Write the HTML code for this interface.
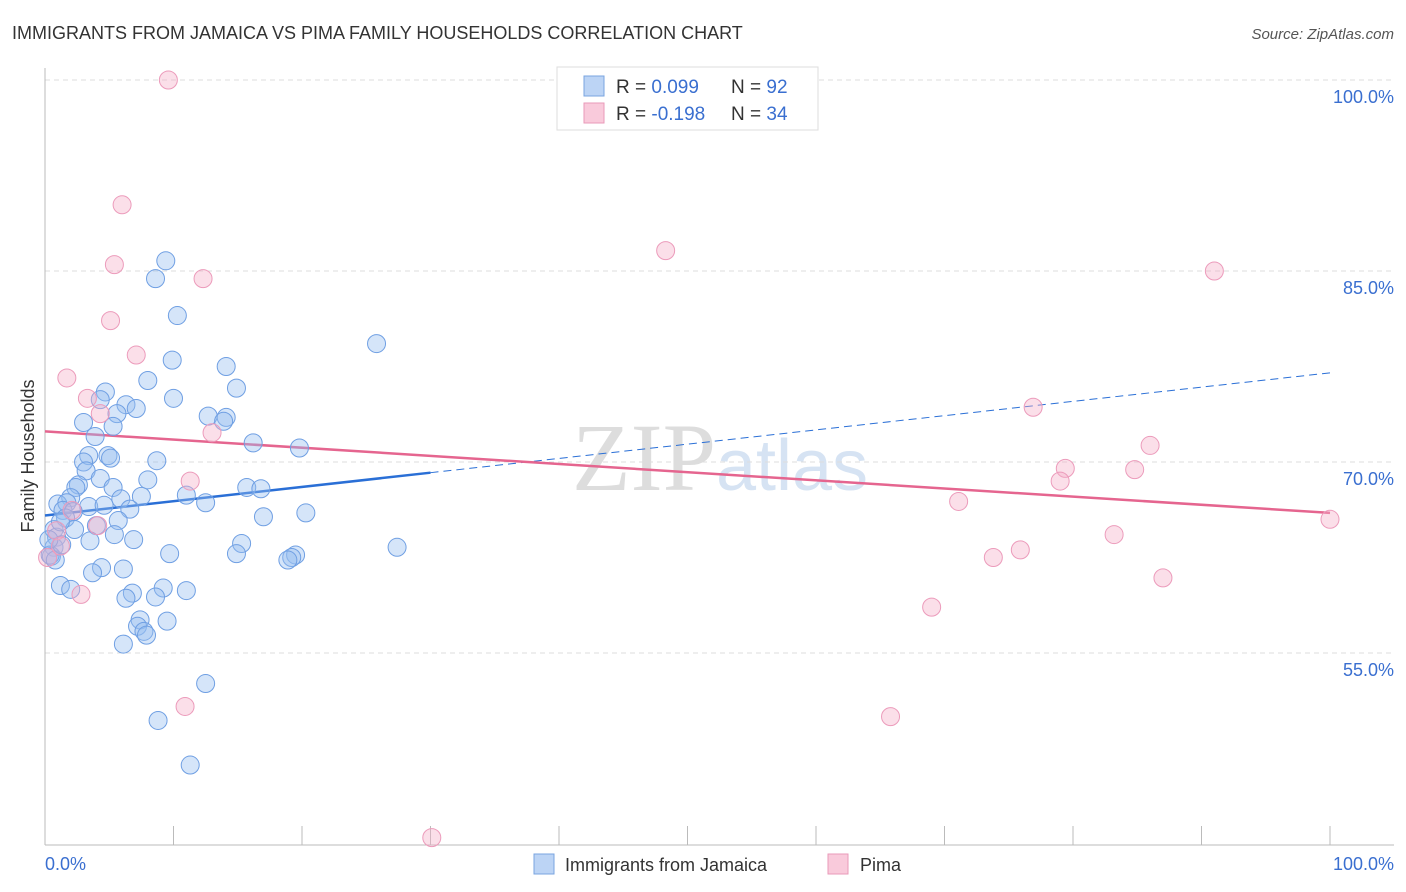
<!DOCTYPE html>
<html><head><meta charset="utf-8"><style>
body{margin:0;background:#fff;font-family:"Liberation Sans",sans-serif;}
svg{display:block}
</style></head><body>
<svg id="chart" width="1406" height="892">
<text x="12" y="39" font-size="18" fill="#333">IMMIGRANTS FROM JAMAICA VS PIMA FAMILY HOUSEHOLDS CORRELATION CHART</text>
<text x="1394" y="39" font-size="15" fill="#555" font-style="italic" text-anchor="end">Source: ZipAtlas.com</text>
<text x="720" y="490" font-size="96" fill="#ddd" text-anchor="middle" font-family="Liberation Serif,serif">ZIP<tspan fill="#d6e3f3" font-family="Liberation Sans,sans-serif" font-size="72">atlas</tspan></text>
<text transform="translate(34,456) rotate(-90)" font-size="18" fill="#333" text-anchor="middle">Family Households</text>
<g id="grid"></g><g id="ticks"></g><g id="lines"></g><g id="pts"></g>
<g>
<rect x="557" y="67" width="261" height="63" fill="#fff" stroke="#ddd"/>
<rect x="584" y="76" width="20" height="20" fill="#bcd4f5" stroke="#7aa4e0"/>
<rect x="584" y="103" width="20" height="20" fill="#f9cadb" stroke="#e99ab8"/>
<text x="616" y="93" font-size="19" fill="#333">R = <tspan fill="#3a6fd0"> 0.099</tspan><tspan x="731">N = </tspan><tspan fill="#3a6fd0">92</tspan></text>
<text x="616" y="120" font-size="19" fill="#333">R = <tspan fill="#3a6fd0">-0.198</tspan><tspan x="731">N = </tspan><tspan fill="#3a6fd0">34</tspan></text>
</g>
<text x="45" y="870" font-size="18" fill="#3a6fd0">0.0%</text>
<text x="1394" y="870" font-size="18" fill="#3a6fd0" text-anchor="end">100.0%</text>
<g>
<rect x="534" y="854" width="20" height="20" fill="#bcd4f5" stroke="#7aa4e0"/>
<text x="565" y="871" font-size="18" fill="#333">Immigrants from Jamaica</text>
<rect x="828" y="854" width="20" height="20" fill="#f9cadb" stroke="#e99ab8"/>
<text x="860" y="871" font-size="18" fill="#333">Pima</text>
</g>
</svg>
<script>
const yTicks=[100,85,70,55];
const yTickLabels=["100.0%","85.0%","70.0%","55.0%"];
const xTicks=[0,10,20,30,40,50,60,70,80,90,100];
const blueX=[9.4,8.6,10.3,25.8,9.9,14.1,8.0,14.9,4.7,10.0,4.3,6.3,7.1,5.6,12.7,14.1,13.9,3.0,5.3,3.9,16.2,19.8,3.4,4.9,5.1,8.7,3.0,3.2,4.3,8.0,2.6,2.4,15.7,16.8,5.3,2.0,7.5,11.0,5.9,12.5,1.0,1.7,3.4,4.6,6.6,1.4,2.2,20.3,17.0,1.6,5.7,4.0,2.3,0.7,5.4,0.9,3.5,6.9,15.3,27.4,0.7,9.7,14.9,19.5,19.2,18.9,0.5,0.4,6.1,4.4,3.7,1.2,2.0,9.2,11.0,6.8,6.3,8.6,7.4,9.5,7.2,7.7,7.9,6.1,12.5,8.8,11.3,0.8,1.3,0.3,1.2];
const blueY=[85.8,84.4,81.5,79.3,78.0,77.5,76.4,75.8,75.5,75.0,74.9,74.5,74.2,73.8,73.6,73.5,73.2,73.1,72.8,72.0,71.5,71.1,70.5,70.5,70.3,70.1,70.0,69.3,68.7,68.6,68.2,68.0,68.0,67.9,68.0,67.2,67.3,67.4,67.1,66.8,66.7,66.8,66.5,66.6,66.3,66.2,66.1,66.0,65.7,65.6,65.4,65.0,64.7,64.7,64.3,64.1,63.8,63.9,63.6,63.3,63.3,62.8,62.8,62.7,62.5,62.3,62.6,62.7,61.6,61.7,61.3,60.3,60.0,60.1,59.9,59.7,59.3,59.4,57.6,57.5,57.1,56.7,56.4,55.7,52.6,49.7,46.2,62.3,63.5,63.9,65.3];
const pinkX=[9.6,6.0,5.4,12.3,5.1,7.1,1.7,3.3,4.3,13.0,11.3,4.1,0.9,0.2,2.8,10.9,30.1,48.3,91.0,76.9,86.0,79.4,84.8,79.0,71.1,100,83.2,75.9,73.8,87.0,69.0,65.8,2.1,1.2];
const pinkY=[100,90.2,85.5,84.4,81.1,78.4,76.6,75.0,73.8,72.3,68.5,65.0,64.6,62.5,59.6,50.8,40.5,86.6,85.0,74.3,71.3,69.5,69.4,68.5,66.9,65.5,64.3,63.1,62.5,60.9,58.6,50.0,66.2,63.4];
const blueTrend=[65.8,77.0];
const blueSolidEnd=30;
const pinkTrend=[72.4,66.0];
const NS="http://www.w3.org/2000/svg";
const X=v=>45+v*12.85, Y=v=>80+(100-v)*12.733;
function mk(t,a,p){const e=document.createElementNS(NS,t);for(const k in a)e.setAttribute(k,a[k]);p.appendChild(e);return e;}
const grid=document.getElementById('grid'),ticks=document.getElementById('ticks'),lines=document.getElementById('lines'),pts=document.getElementById('pts');
yTicks.forEach((v,i)=>{
 const l=mk('line',{x1:45,x2:1394,y1:Y(v),y2:Y(v),stroke:'#ddd','stroke-dasharray':'5,4'},grid);
 
 
 const t=mk('text',{x:1394,y:Y(v)+23,'font-size':18,fill:'#3a6fd0','text-anchor':'end'},grid);
 t.textContent=yTickLabels[i];
 
 
});
const ax=mk('line',{x1:45,x2:45,y1:68,y2:845,stroke:'#bbb'},ticks);


const bx=mk('line',{x1:45,x2:1394,y1:845,y2:845,stroke:'#bbb'},ticks);


xTicks.forEach(v=>{
 const t=mk('line',{x1:X(v),x2:X(v),y1:826,y2:845,stroke:'#bbb'},ticks);
 
 
});
function dot(x,y,fill,stroke,name){
 const c=mk('circle',{cx:X(x),cy:Y(y),r:9,fill:fill,stroke:stroke,'stroke-width':1},pts);
 
 
}
blueX.forEach((x,i)=>dot(x,blueY[i],'rgba(150,190,240,0.4)','#6f9fe3','jamaica-point'));
pinkX.forEach((x,i)=>dot(x,pinkY[i],'rgba(246,175,200,0.4)','#ec9bbb','pima-point'));
const bAt=x=>blueTrend[0]+(blueTrend[1]-blueTrend[0])*x/100;
const b1=mk('line',{x1:X(0),y1:Y(bAt(0)),x2:X(blueSolidEnd),y2:Y(bAt(blueSolidEnd)),stroke:'#2a6fd6','stroke-width':2.5},lines);


const b2=mk('line',{x1:X(blueSolidEnd),y1:Y(bAt(blueSolidEnd)),x2:X(100),y2:Y(bAt(100)),stroke:'#2a6fd6','stroke-width':1,'stroke-dasharray':'8,5'},lines);


const p1=mk('line',{x1:X(0),y1:Y(pinkTrend[0]),x2:X(100),y2:Y(pinkTrend[1]),stroke:'#e5658f','stroke-width':2.5},lines);


</script>
</body></html>
